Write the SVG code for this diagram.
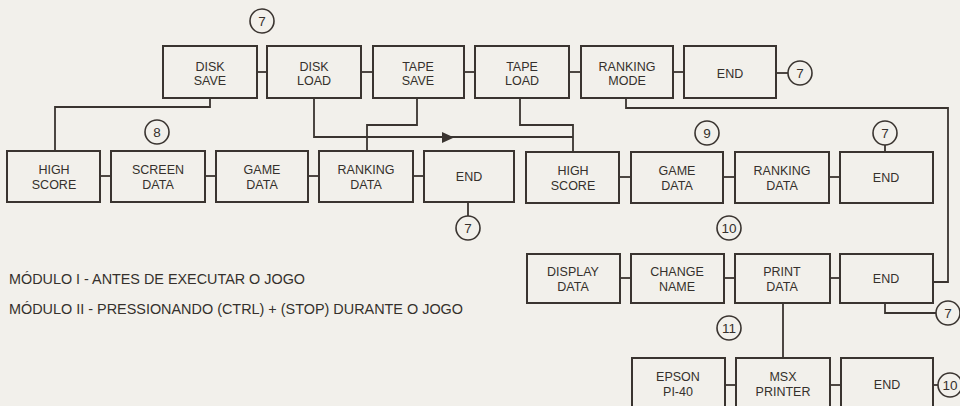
<svg xmlns="http://www.w3.org/2000/svg" width="960" height="406" viewBox="0 0 960 406">
<style>
.b{fill:none;stroke:#3a3430;stroke-width:2}
.c{fill:none;stroke:#3a3430;stroke-width:1.8}
.t{font-family:"Liberation Sans",Arial,sans-serif;font-size:12.5px;fill:#35302c;text-anchor:middle}
.n{font-family:"Liberation Sans",Arial,sans-serif;font-size:13.5px;fill:#35302c;text-anchor:middle}
.l{font-family:"Liberation Sans",Arial,sans-serif;font-size:14px;fill:#35302c}
.k{fill:none;stroke:#3a3430;stroke-width:1.6}
</style>
<rect width="960" height="406" fill="#f2f0eb"/>
<g id="connectors" class="c">
<line x1="257" y1="72" x2="267" y2="72"/>
<line x1="361" y1="72" x2="373" y2="72"/>
<line x1="464" y1="72" x2="475" y2="72"/>
<line x1="569" y1="72" x2="581" y2="72"/>
<line x1="673" y1="72" x2="684" y2="72"/>
<line x1="776" y1="73" x2="788" y2="73"/>
<polyline points="210,98 210,107 55,107 55,151"/>
<polyline points="314,98 314,137 573,137"/>
<polyline points="520,98 520,125 573,125 573,152"/>
<polyline points="417,98 417,125 367,125 367,151"/>
<polyline points="626,98 626,108 948,108 948,282 933,282"/>
<path d="M442,132 L454,137.5 L442,143 Z" fill="#3a3430" stroke="none"/>
<line x1="100" y1="176" x2="111" y2="176"/>
<line x1="205" y1="176" x2="216" y2="176"/>
<line x1="308" y1="176" x2="319" y2="176"/>
<line x1="413" y1="176" x2="424" y2="176"/>
<line x1="468" y1="202" x2="468" y2="216"/>
<line x1="619" y1="177" x2="631" y2="177"/>
<line x1="723" y1="177" x2="735" y2="177"/>
<line x1="829" y1="177" x2="840" y2="177"/>
<line x1="885" y1="145" x2="885" y2="152"/>
<line x1="620" y1="278" x2="631" y2="278"/>
<line x1="724" y1="278" x2="735" y2="278"/>
<line x1="830" y1="278" x2="840" y2="278"/>
<polyline points="885,303 885,313 936,313"/>
<line x1="783" y1="303" x2="783" y2="358"/>
<line x1="725" y1="385" x2="736" y2="385"/>
<line x1="830" y1="385" x2="841" y2="385"/>
<line x1="933" y1="385" x2="938" y2="385"/>
</g>
<g id="disk-save"><rect class="b" x="163" y="46" width="94" height="52"/><text class="t" x="210" y="71">DISK</text><text class="t" x="210" y="85">SAVE</text></g>
<g id="disk-load"><rect class="b" x="267" y="46" width="94" height="52"/><text class="t" x="314" y="71">DISK</text><text class="t" x="314" y="85">LOAD</text></g>
<g id="tape-save"><rect class="b" x="373" y="46" width="91" height="52"/><text class="t" x="418" y="71">TAPE</text><text class="t" x="418" y="85">SAVE</text></g>
<g id="tape-load"><rect class="b" x="475" y="46" width="94" height="52"/><text class="t" x="522" y="71">TAPE</text><text class="t" x="522" y="85">LOAD</text></g>
<g id="ranking-mode"><rect class="b" x="581" y="46" width="92" height="52"/><text class="t" x="627" y="71">RANKING</text><text class="t" x="627" y="85">MODE</text></g>
<g id="end-top"><rect class="b" x="684" y="46" width="92" height="52"/><text class="t" x="730" y="78">END</text></g>
<g id="c7-top"><circle class="k" cx="262" cy="21" r="12"/><text class="n" x="262" y="26">7</text></g>
<g id="c7-top-right"><circle class="k" cx="800" cy="73" r="12"/><text class="n" x="800" y="78">7</text></g>
<g id="c8"><circle class="k" cx="157" cy="132" r="12"/><text class="n" x="157" y="137">8</text></g>
<g id="high-score-1"><rect class="b" x="7" y="151" width="93" height="51"/><text class="t" x="54" y="174">HIGH</text><text class="t" x="54" y="189">SCORE</text></g>
<g id="screen-data"><rect class="b" x="111" y="151" width="94" height="51"/><text class="t" x="158" y="174">SCREEN</text><text class="t" x="158" y="189">DATA</text></g>
<g id="game-data-1"><rect class="b" x="216" y="151" width="92" height="51"/><text class="t" x="262" y="174">GAME</text><text class="t" x="262" y="189">DATA</text></g>
<g id="ranking-data-1"><rect class="b" x="319" y="151" width="94" height="51"/><text class="t" x="366" y="174">RANKING</text><text class="t" x="366" y="189">DATA</text></g>
<g id="end-mid-left"><rect class="b" x="424" y="151" width="90" height="51"/><text class="t" x="469" y="181">END</text></g>
<g id="c7-mid"><circle class="k" cx="468" cy="228" r="12"/><text class="n" x="468" y="233">7</text></g>
<g id="high-score-2"><rect class="b" x="526" y="152" width="93" height="51"/><text class="t" x="573" y="175">HIGH</text><text class="t" x="573" y="190">SCORE</text></g>
<g id="game-data-2"><rect class="b" x="631" y="152" width="92" height="51"/><text class="t" x="677" y="175">GAME</text><text class="t" x="677" y="190">DATA</text></g>
<g id="ranking-data-2"><rect class="b" x="735" y="152" width="94" height="51"/><text class="t" x="782" y="175">RANKING</text><text class="t" x="782" y="190">DATA</text></g>
<g id="end-mid-right"><rect class="b" x="840" y="152" width="93" height="51"/><text class="t" x="886" y="182">END</text></g>
<g id="c9"><circle class="k" cx="707" cy="133" r="12"/><text class="n" x="707" y="138">9</text></g>
<g id="c7-mid-right"><circle class="k" cx="885" cy="133" r="12"/><text class="n" x="885" y="138">7</text></g>
<g id="c10"><circle class="k" cx="729" cy="228" r="12"/><text class="n" x="729" y="233">10</text></g>
<g id="display-data"><rect class="b" x="527" y="254" width="93" height="49"/><text class="t" x="573" y="276">DISPLAY</text><text class="t" x="573" y="291">DATA</text></g>
<g id="change-name"><rect class="b" x="631" y="254" width="93" height="49"/><text class="t" x="677" y="276">CHANGE</text><text class="t" x="677" y="291">NAME</text></g>
<g id="print-data"><rect class="b" x="735" y="254" width="95" height="49"/><text class="t" x="782" y="276">PRINT</text><text class="t" x="782" y="291">DATA</text></g>
<g id="end-third"><rect class="b" x="840" y="254" width="93" height="49"/><text class="t" x="886" y="283">END</text></g>
<g id="c7-third"><circle class="k" cx="948" cy="313" r="12"/><text class="n" x="948" y="318">7</text></g>
<g id="c11"><circle class="k" cx="729" cy="328" r="12"/><text class="n" x="729" y="333">11</text></g>
<g id="epson"><rect class="b" x="632" y="358" width="93" height="52"/><text class="t" x="678" y="381">EPSON</text><text class="t" x="678" y="396">PI-40</text></g>
<g id="msx-printer"><rect class="b" x="736" y="358" width="94" height="52"/><text class="t" x="783" y="381">MSX</text><text class="t" x="783" y="396">PRINTER</text></g>
<g id="end-bottom"><rect class="b" x="841" y="358" width="92" height="52"/><text class="t" x="887" y="389">END</text></g>
<g id="c10-bottom"><circle class="k" cx="950" cy="385" r="12"/><text class="n" x="950" y="390">10</text></g>
<g id="legend">
<text class="l" x="9" y="284" textLength="296" lengthAdjust="spacingAndGlyphs">MÓDULO I - ANTES DE EXECUTAR O JOGO</text>
<text class="l" x="9" y="314" textLength="454" lengthAdjust="spacingAndGlyphs">MÓDULO II - PRESSIONANDO (CTRL) + (STOP) DURANTE O JOGO</text>
</g>
</svg>
